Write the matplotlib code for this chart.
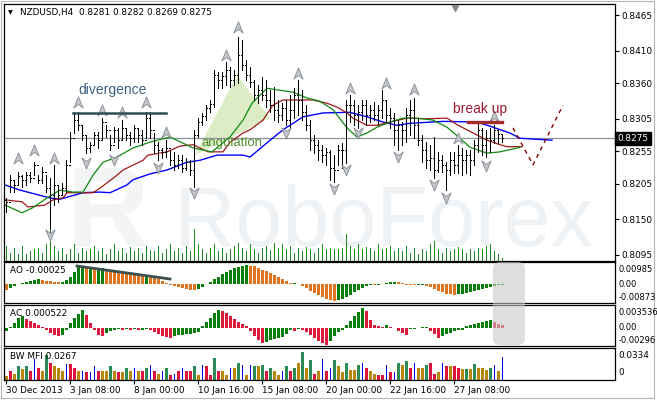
import numpy as np
import matplotlib.pyplot as plt
from matplotlib.path import Path
from matplotlib.patches import Polygon, FancyBboxPatch, Rectangle
from matplotlib.transforms import blended_transform_factory, IdentityTransform

# ---------------- data (NZDUSD, H4) ----------------
high = [0.8183, 0.8218, 0.8211, 0.8223, 0.8218, 0.8223, 0.8223, 0.8238, 0.8218, 0.8231,
        0.8218, 0.8214, 0.8234, 0.8203, 0.8206, 0.8241, 0.8285, 0.8315, 0.8315, 0.8295,
        0.8280, 0.8269, 0.8285, 0.8285, 0.8306, 0.8295, 0.8280, 0.8292, 0.8291, 0.8303,
        0.8291, 0.8285, 0.8295, 0.8291, 0.8288, 0.8315, 0.8315, 0.8283, 0.8269, 0.8260,
        0.8272, 0.8257, 0.8254, 0.8249, 0.8249, 0.8245, 0.8241, 0.8288, 0.8306, 0.8314,
        0.8326, 0.8334, 0.8380, 0.8377, 0.8377, 0.8393, 0.8385, 0.8380, 0.8431, 0.8426,
        0.8396, 0.8385, 0.8365, 0.8357, 0.8369, 0.8365, 0.8349, 0.8354, 0.8334, 0.8329,
        0.8334, 0.8342, 0.8352, 0.8365, 0.8349, 0.8326, 0.8303, 0.8280, 0.8272, 0.8265,
        0.8260, 0.8257, 0.8249, 0.8265, 0.8268, 0.8334, 0.8342, 0.8334, 0.8326, 0.8334,
        0.8334, 0.8326, 0.8331, 0.8326, 0.8349, 0.8334, 0.8322, 0.8314, 0.8303, 0.8300,
        0.8322, 0.8334, 0.8337, 0.8306, 0.8280, 0.8269, 0.8265, 0.8277, 0.8254, 0.8249,
        0.8238, 0.8254, 0.8254, 0.8265, 0.8260, 0.8257, 0.8257, 0.8272, 0.8300, 0.8291,
        0.8288, 0.8291, 0.8295, 0.8288, 0.8282]
low = [0.8161, 0.8192, 0.8192, 0.8203, 0.8200, 0.8203, 0.8208, 0.8218, 0.8206, 0.8206,
       0.8192, 0.8137, 0.8172, 0.8177, 0.8188, 0.8192, 0.8238, 0.8283, 0.8288, 0.8272,
       0.8252, 0.8254, 0.8265, 0.8260, 0.8272, 0.8277, 0.8257, 0.8269, 0.8260, 0.8272,
       0.8272, 0.8265, 0.8269, 0.8269, 0.8265, 0.8275, 0.8275, 0.8252, 0.8241, 0.8245,
       0.8246, 0.8234, 0.8226, 0.8229, 0.8223, 0.8226, 0.8218, 0.8200, 0.8277, 0.8295,
       0.8303, 0.8315, 0.8323, 0.8352, 0.8352, 0.8357, 0.8354, 0.8357, 0.8360, 0.8380,
       0.8365, 0.8354, 0.8334, 0.8329, 0.8334, 0.8323, 0.8316, 0.8303, 0.8300, 0.8303,
       0.8295, 0.8292, 0.8306, 0.8311, 0.8303, 0.8288, 0.8257, 0.8252, 0.8241, 0.8238,
       0.8234, 0.8211, 0.8208, 0.8234, 0.8229, 0.8237, 0.8300, 0.8295, 0.8291, 0.8303,
       0.8295, 0.8300, 0.8303, 0.8295, 0.8306, 0.8300, 0.8291, 0.8265, 0.8257, 0.8265,
       0.8269, 0.8280, 0.8275, 0.8265, 0.8238, 0.8229, 0.8226, 0.8214, 0.8223, 0.8223,
       0.8195, 0.8218, 0.8221, 0.8221, 0.8218, 0.8221, 0.8218, 0.8234, 0.8254, 0.8249,
       0.8246, 0.8254, 0.8268, 0.8268, 0.8269]
close = [0.8177, 0.8211, 0.8203, 0.8217, 0.8211, 0.8218, 0.8214, 0.8234, 0.8211, 0.8223,
         0.8198, 0.8188, 0.8203, 0.8188, 0.8198, 0.8234, 0.8275, 0.8303, 0.8295, 0.8280,
         0.8260, 0.8265, 0.8280, 0.8272, 0.8300, 0.8288, 0.8265, 0.8288, 0.8272, 0.8291,
         0.8280, 0.8275, 0.8291, 0.8280, 0.8272, 0.8306, 0.8288, 0.8265, 0.8257, 0.8254,
         0.8260, 0.8241, 0.8234, 0.8241, 0.8229, 0.8238, 0.8226, 0.8280, 0.8300, 0.8309,
         0.8322, 0.8328, 0.8372, 0.8365, 0.8371, 0.8380, 0.8365, 0.8372, 0.8403, 0.8388,
         0.8372, 0.8362, 0.8342, 0.8349, 0.8342, 0.8334, 0.8326, 0.8319, 0.8311, 0.8322,
         0.8303, 0.8319, 0.8342, 0.8334, 0.8316, 0.8295, 0.8272, 0.8265, 0.8257, 0.8249,
         0.8254, 0.8229, 0.8226, 0.8257, 0.8257, 0.8326, 0.8326, 0.8311, 0.8316, 0.8326,
         0.8311, 0.8319, 0.8311, 0.8319, 0.8334, 0.8311, 0.8306, 0.8288, 0.8295, 0.8288,
         0.8311, 0.8319, 0.8295, 0.8272, 0.8257, 0.8241, 0.8245, 0.8226, 0.8241, 0.8234,
         0.8226, 0.8241, 0.8234, 0.8249, 0.8241, 0.8249, 0.8241, 0.8265, 0.8288, 0.8265,
         0.8275, 0.8272, 0.8288, 0.8281, 0.8275]
first_open = 0.8180

# tick volume (hundreds)
volume = [15, 8, 13, 7, 15, 7, 10, 12, 13, 8, 17, 32, 15, 10, 13, 7, 12, 17, 8, 13,
          10, 12, 15, 10, 13, 7, 12, 17, 10, 13, 8, 14, 10, 13, 8, 15, 11, 10, 15, 8,
          12, 17, 10, 13, 8, 15, 10, 32, 17, 12, 8, 13, 17, 10, 13, 8, 12, 15, 18, 13,
          10, 17, 12, 8, 13, 15, 11, 18, 13, 17, 12, 15, 8, 13, 10, 14, 12, 8, 13, 17,
          12, 13, 12, 12, 13, 27, 15, 12, 17, 12, 14, 13, 10, 17, 12, 13, 15, 10, 13, 10,
          15, 8, 13, 7, 12, 10, 17, 20, 12, 8, 13, 10, 12, 14, 12, 8, 12, 10, 13, 12,
          15, 17, 10, 7, 3]

# Alligator lines (bar position, price) - blue jaw, red teeth, green lips
jaw_x = [-0.25, 3.5, 11, 13.5, 19.25, 23.5, 26, 30.25, 31.75, 36, 40.25, 45.25, 48.5, 52.75,
         59.25, 61, 65.25, 69.25, 74.25, 79.25, 86, 90.25, 94.25, 97.75, 101, 109.25, 117.75,
         121.75, 126, 128.5, 136.5]
jaw_y = [0.8203, 0.8195, 0.8183, 0.8181, 0.8191, 0.8192, 0.8191, 0.8203, 0.8211, 0.8220,
         0.8226, 0.8238, 0.8241, 0.8249, 0.8249, 0.8246, 0.8268, 0.8288, 0.8308, 0.8314,
         0.8315, 0.8308, 0.8300, 0.8295, 0.8298, 0.8301, 0.8300, 0.8292, 0.8283, 0.8275,
         0.8272]
teeth_x = [-0.25, 4, 5.5, 9.75, 11.75, 14.25, 15.25, 21.75, 23.5, 27.75, 29.25, 34.25, 35.5,
           40.25, 43.5, 46.75, 50.5, 54.25, 56, 59.25, 61, 64.25, 66.75, 69.25, 76.75, 80.25,
           82.75, 85.25, 86.75, 90.25, 92.75, 96, 100.25, 105.25, 110.25, 113, 115.25,
           117.75, 120.25, 123.5, 125.25, 129]
teeth_y = [0.8180, 0.8177, 0.8169, 0.8172, 0.8180, 0.8183, 0.8191, 0.8191, 0.8198, 0.8218,
           0.8226, 0.8241, 0.8249, 0.8254, 0.8263, 0.8265, 0.8254, 0.8254, 0.8269, 0.8283,
           0.8288, 0.8303, 0.8326, 0.8334, 0.8334, 0.8329, 0.8323, 0.8314, 0.8306, 0.8295,
           0.8295, 0.8300, 0.8306, 0.8305, 0.8306, 0.8295, 0.8288, 0.8280, 0.8272, 0.8265,
           0.8262, 0.8262]
lips_x = [-0.25, 4, 6.75, 10.25, 13.5, 16.75, 19.25, 21.75, 24.25, 27.75, 31.75, 36, 41,
          46.75, 51.5, 56, 59.25, 61.5, 65.25, 68.5, 71.75, 75.25, 78.5, 81.75, 85.25, 87.75,
          90.25, 92.75, 96, 99.25, 102.75, 106.75, 110.25, 113.5, 116, 120.25, 123.5, 128.5]
lips_y = [0.8172, 0.8160, 0.8168, 0.8183, 0.8195, 0.8192, 0.8192, 0.8218, 0.8238, 0.8246,
          0.8260, 0.8269, 0.8277, 0.8260, 0.8254, 0.8277, 0.8303, 0.8329, 0.8352, 0.8349,
          0.8346, 0.8337, 0.8332, 0.8319, 0.8291, 0.8277, 0.8283, 0.8292, 0.8300, 0.8306,
          0.8306, 0.8303, 0.8292, 0.8275, 0.8261, 0.8252, 0.8254, 0.8261]

# Bill Williams fractals (bar, price of arrow)
up_frac_x = [3, 7, 12, 18, 24, 29, 35, 40, 55, 58, 73, 86, 95, 102, 113, 122]
up_frac_y = [0.8245, 0.8257, 0.8245, 0.8331, 0.8319, 0.8315, 0.8331, 0.8285, 0.8403, 0.8446,
             0.8376, 0.8352, 0.8360, 0.8351, 0.8275, 0.8309]
dn_frac_x = [11, 20, 27, 38, 47, 70, 82, 85, 88, 98, 107, 110, 120]
dn_frac_y = [0.8126, 0.8237, 0.8241, 0.8229, 0.8190, 0.8283, 0.8197, 0.8226, 0.8283, 0.8246,
             0.8203, 0.8183, 0.8232]

# forecast path (dashed)
fc_x = [126.75, 131.75, 139.25]
fc_y = [0.8291, 0.8234, 0.8326]

# Awesome Oscillator (x1e-3)
ao = np.array([-2.86, -1.98, -1.04, 0.26, 0.78, 1.30, 1.82, 2.34, 2.70, 2.24,
               1.98, 1.66, 1.46, 1.14, 1.35, 2.34, 3.90, 6.24, 9.10, 9.26,
               8.58, 8.74, 8.06, 8.22, 8.27, 7.38, 7.18, 7.02, 6.66, 6.40,
               5.98, 5.72, 5.46, 5.04, 4.52, 4.63, 4.06, 3.59, 2.86, 1.82,
               0.78, -0.26, -0.78, -1.46, -1.98, -2.50, -2.86, -3.02, -2.39, -1.30,
               0.16, 1.30, 2.60, 3.90, 5.20, 6.50, 7.54, 8.48, 9.26, 9.78,
               9.85, 9.70, 9.36, 8.58, 7.70, 6.76, 5.72, 4.68, 3.64, 2.60,
               1.82, 0.78, 0.94, 0.26, -0.78, -2.08, -3.38, -4.68, -5.72, -6.66,
               -7.38, -7.96, -8.73, -8.06, -7.54, -6.50, -5.46, -4.16, -2.86, -1.82,
               -0.94, -0.42, -0.52, -0.10, 0.42, 0.78, 1.14, 1.35, 1.20, 0.62,
               -0.16, -0.42, -0.57, -0.47, -0.36, -0.83, -1.56, -2.50, -3.38, -4.16,
               -4.78, -5.10, -5.36, -5.20, -4.99, -4.68, -4.16, -3.64, -3.02, -2.39,
               -1.72, -1.14, -0.68, -0.36, -0.25]) / 1000

# Accelerator Oscillator (x1e-3)
ac = np.array([-0.53, 0.18, 0.89, 1.77, 2.12, 1.59, 1.24, 0.89, 0.53, 0.18,
               -0.35, -0.89, -1.24, -1.42, -1.24, -0.35, 0.89, 1.77, 2.48, 3.19,
               2.30, 0.89, -0.35, -1.24, -1.42, -0.89, -0.53, -0.35, -0.18, -0.35,
               -0.18, -0.27, -0.18, -0.35, -0.27, -0.18, -0.35, -0.71, -1.06, -1.42,
               -1.59, -1.77, -1.42, -1.24, -1.15, -1.06, -0.97, -0.89, -0.71, 0.35,
               1.06, 1.77, 2.66, 3.19, 3.01, 2.66, 2.12, 1.59, 1.06, 0.71,
               0.35, -0.53, -1.42, -2.12, -2.66, -2.48, -2.12, -1.95, -1.77, -1.59,
               -1.06, -0.35, -0.53, -0.18, -0.35, -0.71, -1.24, -1.77, -2.30, -2.66,
               -2.96, -2.30, -1.42, -0.71, -0.35, 0.53, 1.24, 2.12, 2.83, 3.536,
               3.01, 1.42, 0.53, 0.35, 0.27, 0.53, 0.18, 0.09, -0.53, -0.89,
               -1.24, -0.18, -0.09, 0.00, 0.18, 0.27, -0.53, -1.06, -1.77, -1.42,
               -1.06, -0.89, -0.53, -0.35, -0.27, 0.35, 0.53, 0.71, 0.89, 1.06,
               1.24, 1.42, 1.06, 0.71, 0.522]) / 1000

# BW Market Facilitation Index (x1e-3) and bar type:
# G = green, F = fade (brown), K = fake (blue), S = squat (pink)
mfi = np.array([4.7, 10.6, 6.7, 16.5, 13.0, 16.5, 10.6, 24.8, 14.2, 10.6,
                29.5, 20.1, 16.5, 14.2, 10.6, 18.9, 18.9, 14.2, 10.6, 10.6,
                9.4, 9.4, 16.5, 10.6, 10.6, 10.6, 16.5, 10.6, 9.4, 9.4,
                14.2, 10.6, 14.2, 10.6, 10.6, 14.2, 17.7, 10.6, 7.1, 10.6,
                14.2, 5.9, 7.1, 10.6, 14.2, 10.6, 10.6, 16.5, 5.9, 17.7,
                16.5, 5.9, 26.0, 10.6, 10.6, 5.9, 14.2, 14.2, 20.1, 17.7,
                5.9, 17.7, 16.5, 16.5, 17.7, 10.6, 14.2, 10.6, 5.9, 10.6,
                16.5, 10.6, 14.2, 20.1, 33.4, 14.2, 23.6, 7.1, 10.6, 24.8,
                10.6, 14.2, 23.6, 16.5, 9.4, 20.1, 11.8, 11.8, 17.7, 20.1,
                14.2, 10.6, 7.1, 5.9, 5.9, 17.7, 9.4, 9.4, 20.1, 17.7,
                22.4, 14.2, 20.1, 14.2, 14.2, 17.7, 20.1, 7.1, 9.4, 20.1,
                16.5, 16.5, 16.5, 14.2, 13.0, 13.0, 13.0, 18.9, 14.2, 14.2,
                11.8, 14.2, 17.7, 10.6, 26.7]) / 1000
mfi_kind = ("FSFGFGSKSF" "GSFFFKSSFK" "SKKSFFGFSF" "GFKFSGKSFK"
            "GSKSKSSGFK" "SSGSFFKFGK" "FKGFGSGFFK" "GSGFGFGSFK"
            "SKGFFGFFGK" "SFFSSKSKGF" "GSKFFGSSFK" "SFSSFGFGFF"
            "FGKFK")

# time axis labels (every 16 bars)
date_pos = [0, 16, 32, 48, 64, 80, 96, 112]
date_labels = ["30 Dec 2013", "3 Jan 08:00", "8 Jan 00:00", "10 Jan 16:00",
               "15 Jan 08:00", "20 Jan 00:00", "22 Jan 16:00", "27 Jan 08:00"]
price_ticks = [0.8465, 0.8410, 0.8360, 0.8305, 0.8255, 0.8205, 0.8150, 0.8095]
last_price = 0.8275

# ---------------- figure layout (pixel based, 657x400) ----------------
W, H = 657, 400
fig = plt.figure(figsize=(W / 100, H / 100), dpi=100)
fig.patch.set_facecolor("white")
PX = 0.72  # one pixel in points


def px_axes(x0, y0, x1, y1):
    ax = fig.add_axes([x0 / W, 1 - y1 / H, (x1 - x0) / W, (y1 - y0) / H])
    ax.set_facecolor("none")
    for s in ax.spines.values():
        s.set_linewidth(0.9)
        s.set_color("black")
    ax.set_xlim(-0.5, 152.25)
    ax.set_xticks([])
    ax.set_yticks([])
    return ax


def fig_xy(x, y):
    return x / W, 1 - y / H


ax = px_axes(4, 4, 615, 261)
ax_ao = px_axes(4, 262, 615, 303)
ax_ac = px_axes(4, 305, 615, 346)
ax_mfi = px_axes(4, 348, 615, 380)

small = dict(fontsize=6.4, family="DejaVu Sans", color="black")
scale_kw = dict(fontsize=6.0, family="DejaVu Sans", color="black")

# outer window frame
fig.add_artist(Rectangle((1, 2), 653, 397, transform=IdentityTransform(), fill=False,
                         edgecolor="#b4b4b4", lw=0.8, zorder=-4))

# watermark
fig.text(*fig_xy(66, 246), "R", fontsize=82, family="Liberation Sans", fontweight="bold",
         color="#f2f4f6", zorder=-5)
fig.text(*fig_xy(174, 246), "RoboForex", fontsize=61, family="Liberation Sans",
         color="#eff2f5", zorder=-5)

# ---------------- main price panel ----------------
n = len(close)
idx = np.arange(n)
opens = np.r_[first_open, close[:-1]]
ax.set_ylim(0.80857, 0.84820)

# volumes along the bottom
vol_tr = blended_transform_factory(ax.transData, ax.transAxes)
ax.vlines(idx, 0, np.array(volume) * 100 / 25700, transform=vol_tr, color="#1f8a1f",
          lw=PX, antialiased=False, zorder=1)

# angulation triangle
ax.add_patch(Polygon([[47.25, 0.8249], [57.75, 0.8372], [66, 0.8306]], closed=True,
                     facecolor="#dcedc6", edgecolor="none", zorder=1))

# last price line
ax.axhline(last_price, color="#8a9199", lw=0.9, zorder=1.5)

# alligator
ax.plot(jaw_x, jaw_y, color="#0000ff", lw=1.0, zorder=2)
ax.plot(teeth_x, teeth_y, color="#a01818", lw=0.9, zorder=2)
ax.plot(lips_x, lips_y, color="#108a10", lw=0.9, zorder=2)
ax.plot(fc_x, fc_y, color="#8b0000", lw=1.0, ls=(0, (3, 3)), zorder=2)

# OHLC bars
ax.vlines(idx, low, high, color="black", lw=PX, antialiased=False, zorder=3)
ax.hlines(opens, idx - 0.3, idx, color="black", lw=PX, antialiased=False, zorder=3)
ax.hlines(close, idx, idx + 0.3, color="black", lw=PX, antialiased=False, zorder=3)

# fractal arrows
up_arrow = Path([(0, 0.5), (0.42, -0.5), (0, -0.18), (-0.42, -0.5), (0, 0.5)],
                [Path.MOVETO, Path.LINETO, Path.LINETO, Path.LINETO, Path.CLOSEPOLY])
dn_arrow = Path([(0, -0.5), (0.42, 0.5), (0, 0.18), (-0.42, 0.5), (0, -0.5)],
                [Path.MOVETO, Path.LINETO, Path.LINETO, Path.LINETO, Path.CLOSEPOLY])
ax.plot(up_frac_x, up_frac_y, ls="none", marker=up_arrow, ms=8, mfc="#c3c7cc",
        mec="#858b92", mew=0.6, zorder=4)
ax.plot(dn_frac_x, dn_frac_y, ls="none", marker=dn_arrow, ms=8, mfc="#c3c7cc",
        mec="#858b92", mew=0.6, zorder=4)

# annotations
ax.plot([16.75, 40], [0.8314, 0.8314], color="#2f4f4f", lw=1.8, zorder=4)
ax.text(26.75, 0.8349, "divergence", fontsize=10, family="Liberation Sans",
        color="#3f5f80", ha="center", va="center", zorder=5)
ax.text(56.5, 0.8268, "angulation", fontsize=9.5, family="Liberation Sans",
        color="#4f8f2a", ha="center", va="center", zorder=5)
ax.plot([115.5, 124], [0.8300, 0.8300], color="#a52a2a", lw=2.4, zorder=4)
ax.text(118.5, 0.8320, "break up", fontsize=10, family="Liberation Sans",
        color="#9b1b30", ha="center", va="center", zorder=5)

# price scale
ax.yaxis.tick_right()
ax.set_yticks(price_ticks)
ax.set_yticklabels([f"{p:.4f}" for p in price_ticks], **small)
ax.tick_params(axis="y", length=3, width=0.8, pad=1.5)
ax.text(1.004, last_price, f"{last_price:.4f}", transform=blended_transform_factory(
    ax.transAxes, ax.transData), ha="left", va="center", color="white", fontsize=6.4,
    family="DejaVu Sans", zorder=6,
    bbox=dict(boxstyle="square,pad=0.25", fc="black", ec="black"))

# header
ax.text(0.006, 0.965, "\u25bc", transform=ax.transAxes, fontsize=4.5, va="center",
        ha="left", family="DejaVu Sans")
ax.text(0.026, 0.965, "NZDUSD,H4  0.8281 0.8282 0.8269 0.8275", transform=ax.transAxes,
        va="center", ha="left", **small)
ax.plot([112.25], [0.984], transform=blended_transform_factory(ax.transData, ax.transAxes),
        marker="v", ms=5, color="#7f868e", clip_on=False, zorder=6)

# ---------------- AO ----------------
up_col = "#0b7d0b"
ao_up = np.r_[False, np.diff(ao) > 0]
ax_ao.bar(idx, ao, width=0.75, color=np.where(ao_up, up_col, "#e0731d"),
          linewidth=0, antialiased=False)
ax_ao.plot([17.75, 41], [0.00952, 0.00276], color="#3d5050", lw=2.0)
ax_ao.set_ylim(-0.0097, 0.0116)
ax_ao.text(0.01, 0.80, "AO -0.00025", transform=ax_ao.transAxes, va="center", **small)
for f, lab in [(0.805, "0.00985"), (0.456, "0.00"), (0.146, "-0.00873")]:
    ax_ao.text(1.006, f, lab, transform=ax_ao.transAxes, va="center", **scale_kw)

# ---------------- AC ----------------
ac_up = np.r_[True, np.diff(ac) > 0]
ax_ac.bar(idx, ac, width=0.75, color=np.where(ac_up, up_col, "#dc1a3c"),
          linewidth=0, antialiased=False)
ax_ac.set_ylim(-0.00313, 0.00412)
ax_ac.text(0.01, 0.80, "AC 0.000522", transform=ax_ac.transAxes, va="center", **small)
for f, lab in [(0.829, "0.003536"), (0.45, "0.00"), (0.146, "-0.00296")]:
    ax_ac.text(1.006, f, lab, transform=ax_ac.transAxes, va="center", **scale_kw)

# ---------------- BW MFI ----------------
kind_col = {"G": "#2e8b57", "F": "#b8860b", "K": "#0000dd", "S": "#dc143c"}
kinds = np.array(list(mfi_kind))
for k, c in kind_col.items():
    sel = kinds == k
    ax_mfi.bar(idx[sel], mfi[sel], width=0.25 if k == "K" else 0.75, color=c,
               linewidth=0, antialiased=False)
ax_mfi.set_ylim(0, 0.0378)
ax_mfi.text(0.01, 0.73, "BW MFI 0.0267", transform=ax_mfi.transAxes, va="center", **small)
ax_mfi.text(1.006, 0.78, "0.0334", transform=ax_mfi.transAxes, va="center", **small)
ax_mfi.text(1.006, 0.22, "0", transform=ax_mfi.transAxes, va="center", **small)
ax_mfi.set_xticks(date_pos)
ax_mfi.set_xticklabels(date_labels, ha="left", **small)
ax_mfi.tick_params(axis="x", length=3, width=0.8, pad=1.5)

# grey rounded selection box over AO/AC
sel_box = FancyBboxPatch((493, H - 345), 32, 83, boxstyle="round,pad=0,rounding_size=7",
                         transform=IdentityTransform(), facecolor="#c8c8c8",
                         edgecolor="none", alpha=0.6, zorder=10)
fig.add_artist(sel_box)

fig.savefig("out.png", dpi=100)
